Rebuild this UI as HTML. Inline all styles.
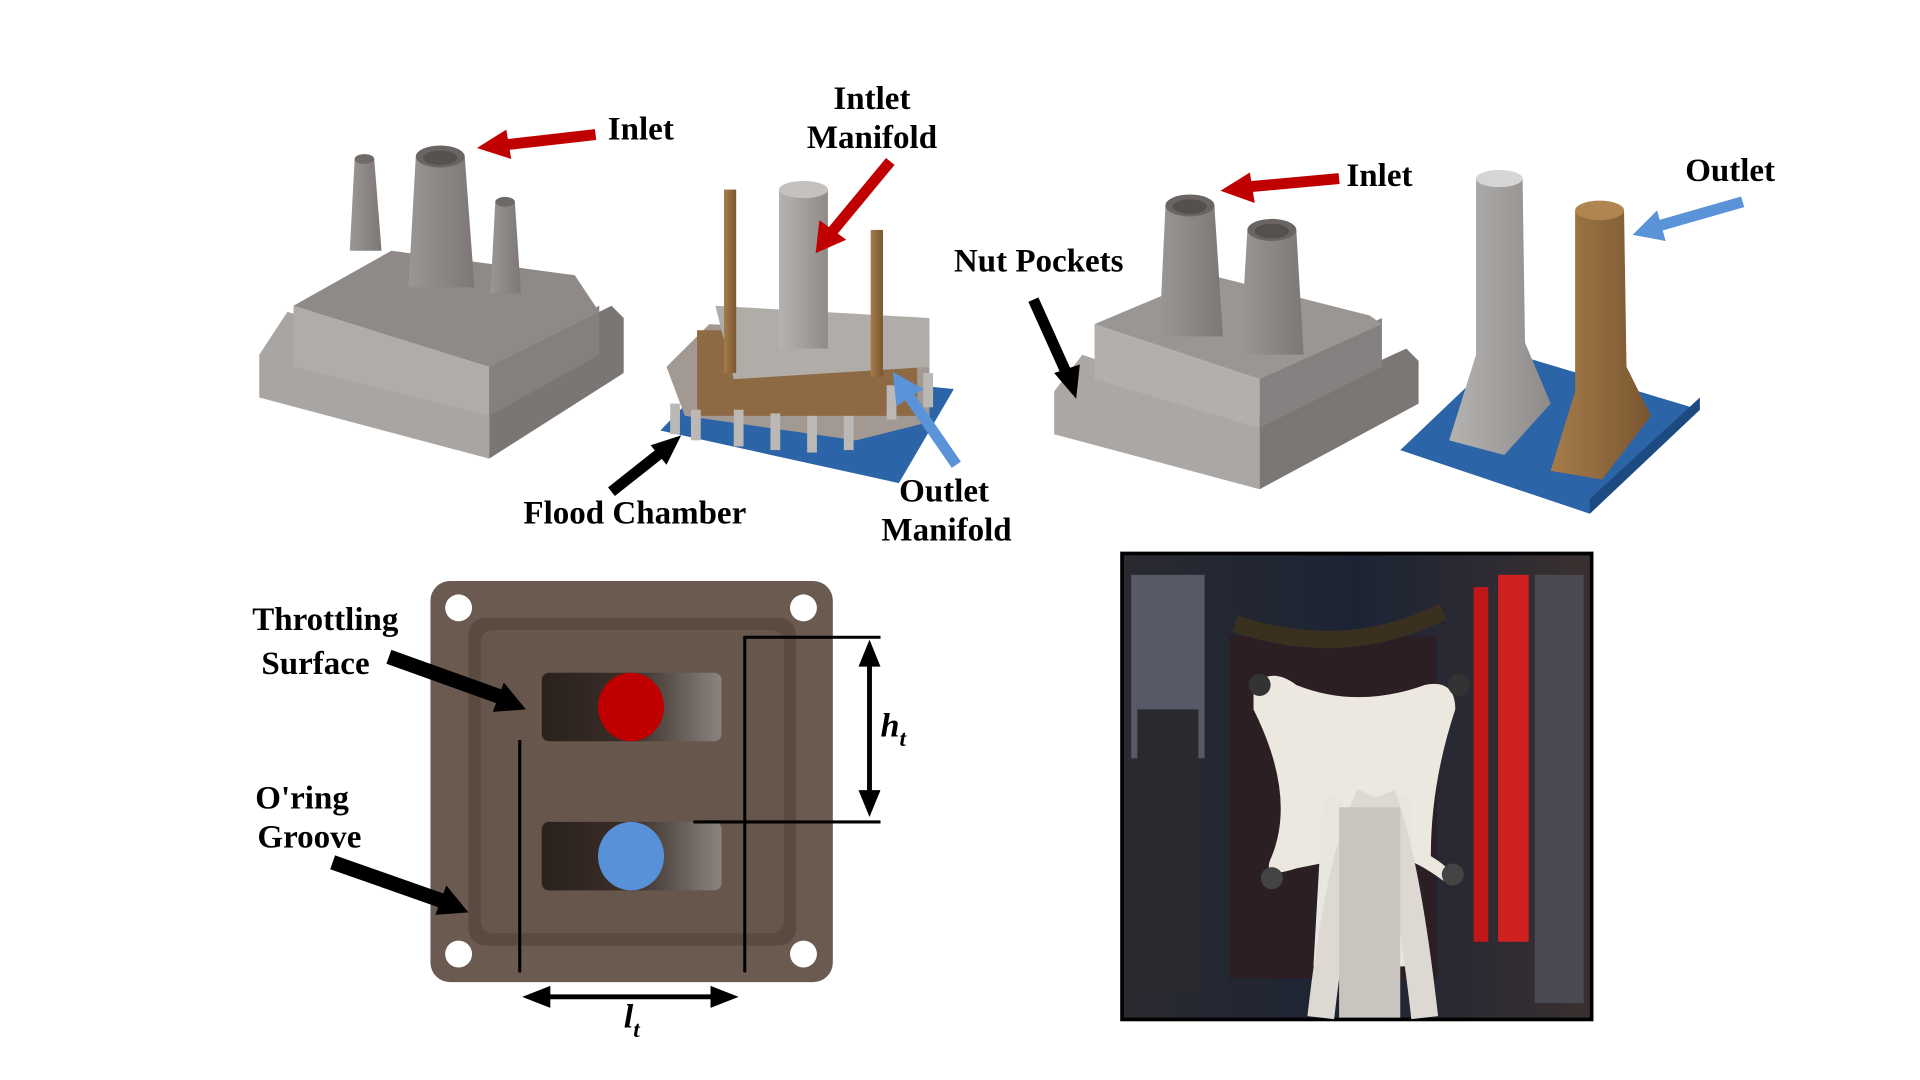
<!DOCTYPE html>
<html><head><meta charset="utf-8"><style>
html,body{margin:0;padding:0;background:#fff;width:1920px;height:1080px;overflow:hidden}
svg{display:block}
text{font-family:"Liberation Serif",serif;font-weight:bold;fill:#000}
</style></head><body>
<svg width="1920" height="1080" viewBox="0 0 1570 883" preserveAspectRatio="none">
<defs>
<linearGradient id="gray" x1="0" x2="1"><stop offset="0" stop-color="#9a9694"/><stop offset="1" stop-color="#7d7876"/></linearGradient>
<linearGradient id="lgray" x1="0" x2="1"><stop offset="0" stop-color="#b5b3b1"/><stop offset="1" stop-color="#8e8b89"/></linearGradient>
<linearGradient id="brown" x1="0" x2="1"><stop offset="0" stop-color="#a57c4a"/><stop offset="1" stop-color="#7a5630"/></linearGradient>
<linearGradient id="slot" x1="0" x2="1"><stop offset="0" stop-color="#2a211d"/><stop offset="0.5" stop-color="#3a2e28"/><stop offset="1" stop-color="#8a8480"/></linearGradient>
<linearGradient id="photo" x1="0" x2="1"><stop offset="0" stop-color="#2a2a30"/><stop offset="0.5" stop-color="#1c2434"/><stop offset="1" stop-color="#3a3030"/></linearGradient>
</defs>

<!-- housing 1 -->
<g>
<polygon points="212,290 235,255 400,300 400,375 212,325" fill="#a9a5a3"/>
<polygon points="400,300 500,250 510,260 510,305 400,375" fill="#7b7674"/>
<polygon points="240,250 240,300 400,340 400,300" fill="#b0acaa"/>
<polygon points="400,300 490,250 490,290 400,340" fill="#857f7d"/>
<polygon points="240,250 320,205 470,225 490,255 400,300" fill="#8f8a88"/>
<polygon points="290,130 306,130 312,205 286,205" fill="url(#gray)"/>
<ellipse cx="298" cy="130" rx="8" ry="4" fill="#6f6a68"/>
<polygon points="340,128 380,128 388,235 334,235" fill="url(#gray)"/>
<ellipse cx="360" cy="128" rx="20" ry="9" fill="#6a6563"/><ellipse cx="360" cy="129" rx="14" ry="6" fill="#57524f"/>
<polygon points="405,165 421,165 426,240 401,240" fill="url(#gray)"/>
<ellipse cx="413" cy="165" rx="8" ry="4" fill="#6f6a68"/>
</g>

<!-- manifold assembly -->
<g>
<polygon points="540,352 590,300 780,318 735,395" fill="#2c64a8"/>
<polygon points="545,300 580,265 760,275 760,345 700,360 560,340" fill="#a29a92"/>
<rect x="570" y="270" width="180" height="70" fill="#8d6a43"/>
<polygon points="585,250 760,260 760,300 600,310" fill="#b0aca8"/>
<rect x="592" y="155" width="10" height="150" fill="url(#brown)"/>
<rect x="712" y="188" width="10" height="120" fill="url(#brown)"/>
<rect x="637" y="155" width="40" height="130" fill="url(#lgray)"/>
<ellipse cx="657" cy="155" rx="20" ry="7" fill="#c4c1be"/>
<g fill="#bcb8b5"><rect x="548" y="330" width="8" height="25"/><rect x="565" y="335" width="8" height="25"/><rect x="600" y="335" width="8" height="30"/><rect x="630" y="338" width="8" height="30"/><rect x="660" y="340" width="8" height="30"/><rect x="690" y="340" width="8" height="28"/><rect x="725" y="315" width="8" height="28"/><rect x="755" y="305" width="8" height="28"/></g>
</g>

<!-- housing 2 -->
<g>
<polygon points="862,320 885,290 1030,340 1030,400 862,355" fill="#aaa7a5"/>
<polygon points="1030,340 1150,285 1160,295 1160,330 1030,400" fill="#7b7775"/>
<polygon points="895,265 895,310 1030,350 1030,310" fill="#b2afad"/>
<polygon points="1030,310 1130,260 1130,300 1030,350" fill="#858180"/>
<polygon points="895,265 990,225 1120,258 1130,265 1030,310" fill="#9a9694"/>
<polygon points="953,168 993,168 1000,275 948,275" fill="url(#gray)"/>
<ellipse cx="973" cy="168" rx="20" ry="9" fill="#6a6563"/><ellipse cx="973" cy="169" rx="14" ry="6" fill="#55504e"/>
<polygon points="1020,188 1060,188 1066,290 1014,290" fill="url(#gray)"/>
<ellipse cx="1040" cy="188" rx="20" ry="9" fill="#6a6563"/><ellipse cx="1040" cy="189" rx="14" ry="6" fill="#55504e"/>
</g>

<!-- columns -->
<g>
<polygon points="1145,368 1230,287 1390,335 1300,420" fill="#2c64a8"/>
<polygon points="1300,408 1390,325 1390,335 1300,420" fill="#1d4a80"/>
<polygon points="1207,145 1245,145 1247,280 1268,330 1230,372 1185,360 1207,290" fill="url(#lgray)"/>
<ellipse cx="1226" cy="146" rx="19" ry="7" fill="#d4d5d6"/>
<polygon points="1288,172 1328,172 1330,300 1350,340 1310,392 1268,385 1288,320" fill="url(#brown)"/>
<ellipse cx="1308" cy="172" rx="20" ry="8" fill="#b08550"/>
</g>

<!-- bottom plate -->
<g>
<rect x="352" y="475" width="329" height="328" rx="16" fill="#6b5a4f"/>
<rect x="383" y="505" width="268" height="268" rx="14" fill="#5a4a40"/>
<rect x="393" y="515" width="248" height="248" rx="10" fill="#66564b"/>
<path d="M430,518 H605 V625 Q605,660 570,660 H465 Q430,660 430,625 Z" fill="#67574c"/>
<rect x="443" y="550" width="147" height="56" rx="6" fill="url(#slot)"/>
<rect x="443" y="672" width="147" height="56" rx="6" fill="url(#slot)"/>
<circle cx="375" cy="497" r="11" fill="#fff"/><circle cx="657" cy="497" r="11" fill="#fff"/>
<circle cx="375" cy="780" r="11" fill="#fff"/><circle cx="657" cy="780" r="11" fill="#fff"/>
<ellipse cx="516" cy="578" rx="27" ry="28" fill="#c00000"/>
<ellipse cx="516" cy="700" rx="27" ry="28" fill="#5891d8"/>
<g stroke="#000" stroke-width="2.5">
<line x1="425" y1="605" x2="425" y2="795"/><line x1="609" y1="520" x2="609" y2="795"/>
<line x1="609" y1="521" x2="720" y2="521"/><line x1="567" y1="672" x2="720" y2="672"/>
<line x1="711" y1="540" x2="711" y2="652" stroke-width="4"/>
<line x1="445" y1="815" x2="585" y2="815" stroke-width="4"/>
</g>
<polygon points="711,523 702,545 720,545" /><polygon points="711,668 702,646 720,646"/>
<polygon points="427,815 450,806 450,824"/><polygon points="604,815 581,806 581,824"/>
</g>

<!-- photo -->
<g>
<rect x="916" y="451" width="387" height="384" fill="#000"/>
<rect x="919" y="454" width="381" height="378" fill="url(#photo)"/>
<rect x="925" y="470" width="60" height="150" fill="#555a66"/>
<rect x="930" y="580" width="50" height="230" fill="#2a2a2e"/>
<rect x="1005" y="520" width="170" height="280" fill="#2b1f24"/>
<rect x="1205" y="480" width="12" height="290" fill="#c01818"/>
<rect x="1225" y="470" width="25" height="300" fill="#d02020"/>
<rect x="1255" y="470" width="40" height="350" fill="#4a4a52"/>
<path d="M1010,510 Q1100,540 1180,500" stroke="#3a3020" stroke-width="14" fill="none"/>
<path d="M1025,560 Q1040,545 1060,560 Q1110,580 1165,560 Q1190,555 1190,580 Q1170,640 1170,700 Q1195,715 1180,720 Q1140,690 1110,700 L1060,710 Q1030,720 1040,700 Q1060,650 1025,580 Z" fill="#ece8df"/>
<circle cx="1030" cy="560" r="9" fill="#333"/><circle cx="1193" cy="560" r="9" fill="#333"/>
<circle cx="1040" cy="718" r="9" fill="#444"/><circle cx="1188" cy="715" r="9" fill="#444"/>
<path d="M1082,790 L1090,650 M1150,790 L1145,650" stroke="#e8e6e0" stroke-width="16" fill="none"/>
<path d="M1080,832 Q1095,700 1120,650 M1165,832 Q1150,700 1130,650" stroke="#ddd9d2" stroke-width="22" fill="none"/>
<rect x="1095" y="660" width="50" height="172" fill="#c8c4be"/>
</g>

<!-- arrows -->
<g fill="#c00000">
<line x1="487" y1="110" x2="408" y2="119" stroke="#c00000" stroke-width="9"/><polygon points="390,121 414,106 418,130"/></g>
<g fill="#c00000">
<line x1="728" y1="132" x2="680" y2="190" stroke="#c00000" stroke-width="9"/><polygon points="667,207 670,180 692,196"/></g>
<g fill="#c00000">
<line x1="1095" y1="146" x2="1018" y2="153" stroke="#c00000" stroke-width="9"/><polygon points="998,156 1022,141 1026,166"/></g>
<g fill="#5b93d8">
<line x1="782" y1="380" x2="742" y2="322" stroke="#5b93d8" stroke-width="9"/><polygon points="730,304 755,318 733,332"/></g>
<g fill="#5b93d8">
<line x1="1425" y1="165" x2="1355" y2="185" stroke="#5b93d8" stroke-width="9"/><polygon points="1335,192 1355,172 1362,197"/></g>
<g fill="#000">
<line x1="500" y1="402" x2="543" y2="368" stroke="#000" stroke-width="9"/><polygon points="557,356 545,380 532,364"/></g>
<g fill="#000">
<line x1="845" y1="245" x2="872" y2="305" stroke="#000" stroke-width="9"/><polygon points="880,326 862,305 883,298"/></g>
<g fill="#000">
<line x1="318" y1="537" x2="410" y2="570" stroke="#000" stroke-width="12"/><polygon points="430,580 403,582 412,558"/></g>
<g fill="#000">
<line x1="272" y1="705" x2="363" y2="737" stroke="#000" stroke-width="12"/><polygon points="383,746 356,748 365,724"/></g>

<!-- labels -->
<text x="497" y="114" font-size="27">Inlet</text>
<text x="713" y="89" font-size="27" text-anchor="middle">Intlet</text>
<text x="713" y="121" font-size="27" text-anchor="middle">Manifold</text>
<text x="428" y="428" font-size="27">Flood Chamber</text>
<text x="772" y="410" font-size="27" text-anchor="middle">Outlet</text>
<text x="774" y="442" font-size="27" text-anchor="middle">Manifold</text>
<text x="1101" y="152" font-size="27">Inlet</text>
<text x="780" y="222" font-size="27">Nut Pockets</text>
<text x="1378" y="148" font-size="27">Outlet</text>
<text x="266" y="515" font-size="27" text-anchor="middle">Throttling</text>
<text x="258" y="551" font-size="27" text-anchor="middle">Surface</text>
<text x="247" y="661" font-size="27" text-anchor="middle">O'ring</text>
<text x="253" y="693" font-size="27" text-anchor="middle">Groove</text>
<text x="720" y="602" font-size="28" font-style="italic">h<tspan font-size="19" dy="8">t</tspan></text>
<text x="510" y="840" font-size="28" font-style="italic">l<tspan font-size="19" dy="8">t</tspan></text>
</svg>
</body></html>
